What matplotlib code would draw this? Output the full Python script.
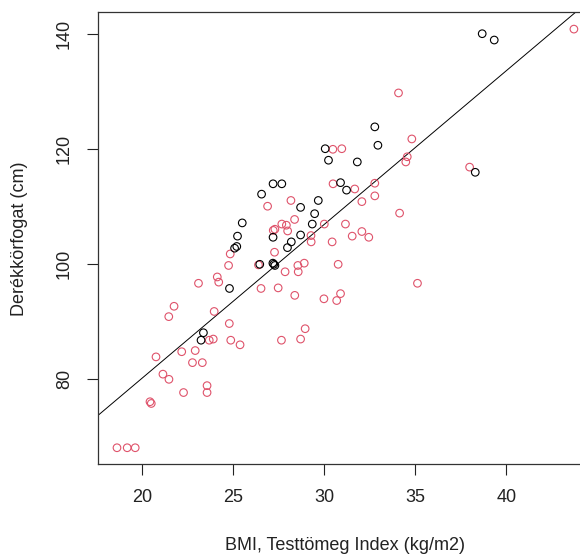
import numpy as np
import matplotlib
matplotlib.use("Agg")
import matplotlib.pyplot as plt

plt.rcParams["font.family"] = ["Liberation Sans", "DejaVu Sans"]

# BMI / derékkörfogat - ffi (fekete)
bmi_ffi = [38.67, 39.33, 32.78, 32.95, 30.06, 30.24, 31.82, 38.29, 30.90, 31.23,
           27.68, 27.20, 26.57, 28.71, 29.68, 29.48, 25.51, 25.25, 27.20, 29.35,
           28.20, 28.71, 25.09, 25.21, 27.99, 24.81, 26.47, 27.19, 27.24, 27.30,
           23.38, 23.25]
derek_ffi = [140.1, 139.0, 123.9, 120.7, 120.1, 118.1, 117.8, 116.0, 114.2, 112.9,
             114.0, 114.0, 112.2, 109.9, 111.1, 108.8, 107.2, 104.9, 104.7, 107.0,
             103.9, 105.1, 102.8, 103.1, 102.9, 95.8, 100.0, 100.2, 100.0, 99.8,
             88.1, 86.8]

# no (piros)
bmi_no = [43.70, 34.08, 30.48, 30.97, 34.81, 34.56, 34.48, 37.98, 30.49, 31.68,
          32.78, 32.78, 32.07, 34.14, 31.17, 31.54, 32.07, 32.45, 30.44, 26.90,
          28.18, 28.38, 30.01, 29.28, 29.29, 27.68, 27.93, 28.00, 27.21, 27.30,
          24.85, 27.28, 28.91, 24.76, 26.40, 28.56, 28.58, 27.86, 30.77, 23.11,
          24.14, 24.22, 26.54, 27.48, 28.39, 29.99, 30.69, 30.90, 35.12, 21.77,
          21.48, 23.97, 24.80, 23.70, 23.92, 24.88, 25.39, 27.66, 28.71, 28.96,
          22.19, 22.93, 20.78, 22.78, 23.32, 21.16, 21.49, 23.58, 23.58, 22.29,
          20.45, 20.52, 18.64, 19.20, 19.64]
derek_no = [140.9, 129.8, 120.0, 120.1, 121.8, 118.7, 117.8, 116.9, 114.0, 113.1,
            114.1, 111.9, 110.9, 108.9, 107.0, 104.9, 105.7, 104.7, 103.9, 110.1,
            111.1, 107.8, 107.0, 105.0, 103.9, 107.0, 106.8, 105.8, 105.9, 106.1,
            101.8, 102.1, 100.2, 99.8, 99.9, 99.8, 98.7, 98.7, 100.0, 96.7,
            97.8, 96.9, 95.8, 95.9, 94.6, 94.0, 93.7, 94.9, 96.7, 92.7,
            90.9, 91.8, 89.7, 86.8, 87.0, 86.8, 86.0, 86.8, 87.0, 88.8,
            84.8, 85.0, 83.9, 82.9, 82.9, 80.9, 80.0, 78.9, 77.7, 77.7,
            76.1, 75.8, 68.1, 68.1, 68.1]

x_ticks = [20, 25, 30, 35, 40]
y_ticks = [80, 100, 120, 140]

fig = plt.figure(figsize=(5.8, 5.55), dpi=100)
ax = fig.add_axes([0.169, 0.1632, 0.8488, 0.8144])

ax.scatter(bmi_no, derek_no, s=30, facecolors="none", edgecolors="#DF536B",
           linewidths=0.8, zorder=3)
ax.scatter(bmi_ffi, derek_ffi, s=30, facecolors="none", edgecolors="black",
           linewidths=0.8, zorder=3)

# regresszios egyenes az osszes pontra
x_all = np.array(bmi_ffi + bmi_no)
y_all = np.array(derek_ffi + derek_no)
b, a = np.polyfit(x_all, y_all, 1)
xx = np.array([10, 50])
ax.plot(xx, a + b * xx, color="black", lw=0.7, zorder=2)

ax.set_xlim(17.6, 44.6)
ax.set_ylim(65.2, 143.8)
ax.set_xticks(x_ticks)
ax.set_yticks(y_ticks)
ax.tick_params(length=8, width=0.8, labelsize=13, colors="#222222")
ax.tick_params(axis="x", pad=10)
ax.tick_params(axis="y", pad=10)
for lab in ax.get_yticklabels():
    lab.set_rotation(90)
    lab.set_va("center")
for s in ax.spines.values():
    s.set_linewidth(0.9)
    s.set_color("#333333")

fig.text(345 / 580, 1 - 546 / 555, "BMI, Testtömeg Index (kg/m2)", fontsize=13,
         ha="center", va="center", color="#222222")
fig.text(20 / 580, 1 - 239 / 555, "Derékkörfogat (cm)", fontsize=13,
         rotation=90, ha="center", va="center", color="#222222")

fig.savefig("out.png", dpi=100)
